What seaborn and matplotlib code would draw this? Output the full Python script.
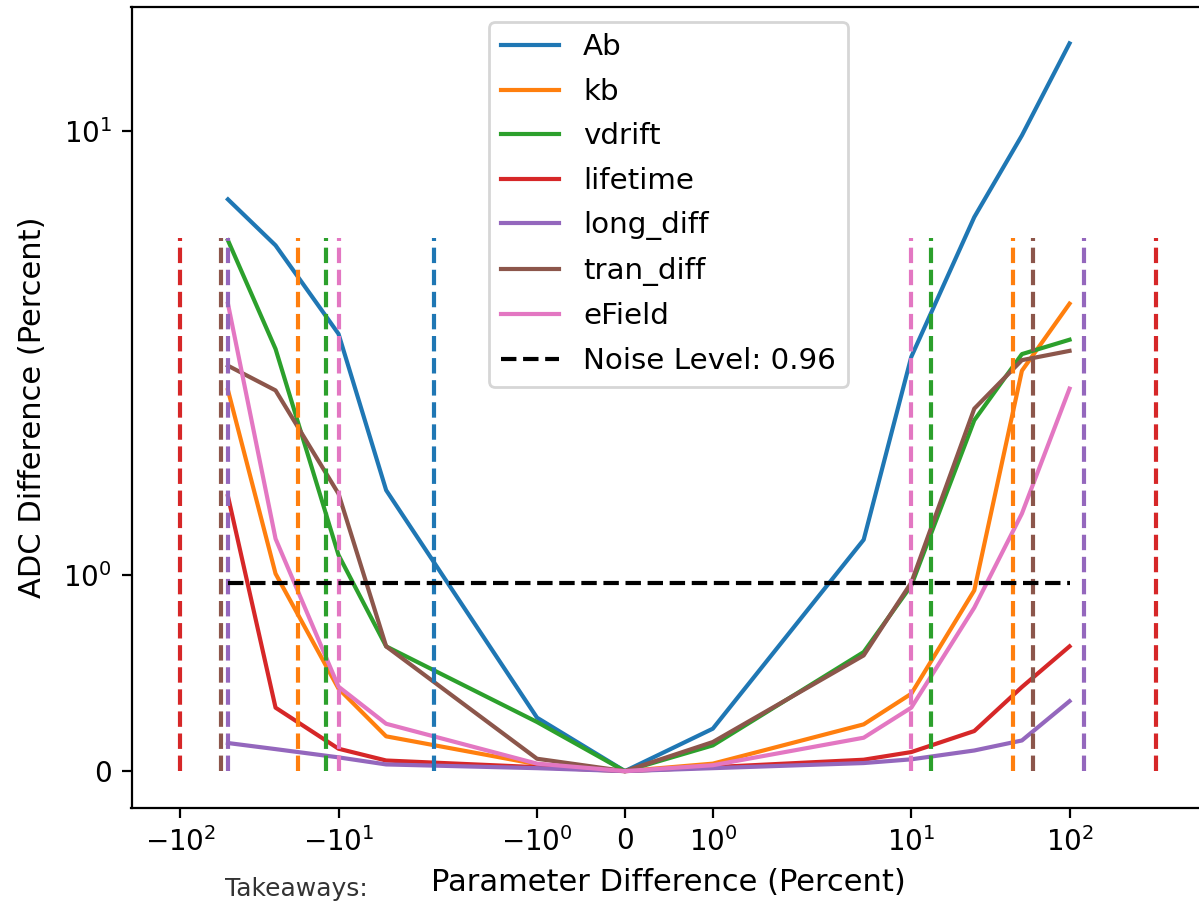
import matplotlib
matplotlib.use("Agg")
import matplotlib.pyplot as plt
import seaborn as sns
import numpy as np

# Parameter variations (percent) at which the ADC difference was evaluated
x_pct = [-50, -25, -10, -5, -1, 0, 1, 5, 10, 25, 50, 100]

# ADC difference (percent) for each varied parameter
params = ["Ab", "kb", "vdrift", "lifetime", "long_diff", "tran_diff", "eField"]
ab = [6.41, 4.75, 2.67, 1.43, 0.272, 0.0, 0.216, 1.178, 2.30, 5.71, 9.72, 17.7]
kb = [1.94, 1.005, 0.42, 0.177, 0.035, 0.0, 0.038, 0.238, 0.394, 0.92, 2.10, 3.25]
vdrift = [4.91, 2.42, 1.10, 0.635, 0.25, 0.0, 0.131, 0.606, 0.945, 1.786, 2.34, 2.57]
lifetime = [1.40, 0.323, 0.114, 0.054, 0.02, 0.0, 0.02, 0.058, 0.097, 0.204, 0.428, 0.635]
long_diff = [0.143, 0.112, 0.07, 0.034, 0.015, 0.0, 0.015, 0.041, 0.06, 0.105, 0.156, 0.356]
tran_diff = [2.17, 1.938, 1.412, 0.635, 0.063, 0.0, 0.148, 0.589, 0.96, 1.845, 2.25, 2.39]
efield = [3.25, 1.183, 0.43, 0.241, 0.038, 0.0, 0.03, 0.170, 0.323, 0.832, 1.311, 1.947]
series = [ab, kb, vdrift, lifetime, long_diff, tran_diff, efield]

# Parameter change at which each curve reaches the noise level (lower, upper)
cross_lo = [-2.5, -18, -12, -100, -50, -55, -10]
cross_hi = [None, 44, 13.4, 353, 124, 59, 10]
cross_height = 5.0

noise_level = 0.96

colors = sns.color_palette("tab10", len(params))

fig = plt.figure(figsize=(1199 / 200, 906 / 200), dpi=200)
ax = fig.add_axes([131.5 / 1199, 98.5 / 906, (1205 - 131.5) / 1199, (807.5 - 7) / 906])

ax.set_xscale("symlog", linthresh=2)
ax.set_yscale("symlog", linthresh=2)

for name, vals, col in zip(params, series, colors):
    sns.lineplot(x=x_pct, y=vals, color=col, label=name, ax=ax, linewidth=1.5)

# Dashed markers where each parameter's curve crosses the noise level
for lo, hi, col in zip(cross_lo, cross_hi, colors):
    for xv in (lo, hi):
        if xv is not None:
            ax.plot([xv, xv], [0, cross_height], color=col, linestyle="--",
                    linewidth=1.5, label="_nolegend_")

ax.plot([min(x_pct), max(x_pct)], [noise_level, noise_level], "k--",
        linewidth=1.5, label=f"Noise Level: {noise_level}")

ax.set_xlabel("Parameter Difference (Percent)", fontsize=11)
ax.set_ylabel("ADC Difference (Percent)", fontsize=11, labelpad=6)
ax.xaxis.set_minor_locator(matplotlib.ticker.NullLocator())
ax.yaxis.set_minor_locator(matplotlib.ticker.NullLocator())
ax.legend(loc="upper center", fontsize=10.6, labelspacing=0.56)

fig.text(225 / 1199, (906 - 896) / 906, "Takeaways:", fontsize=9, color="#333333",
         ha="left", va="baseline")

fig.savefig("out.png", dpi=200)
